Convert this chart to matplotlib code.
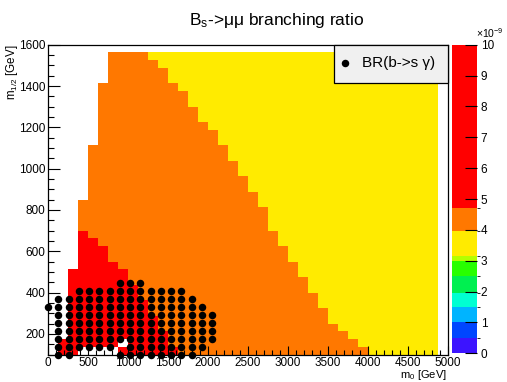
import numpy as np
import matplotlib.pyplot as plt
from matplotlib.colors import ListedColormap, BoundaryNorm
from matplotlib.cm import ScalarMappable
from matplotlib.patches import Rectangle
from matplotlib.ticker import MultipleLocator

plt.rcParams['font.family'] = ['Liberation Sans', 'DejaVu Sans']
plt.rcParams['mathtext.fontset'] = 'custom'
plt.rcParams['mathtext.rm'] = 'Liberation Sans'
plt.rcParams['mathtext.it'] = 'Liberation Sans:italic'
plt.rcParams['mathtext.default'] = 'regular'

# 40x40 histogram in (m0, m1/2)
m0_edges = np.linspace(0, 5000, 41)
m12_edges = np.linspace(100, 1600, 41)

# per m0 bin: first filled row, top of the red band, top of the orange band, top of filled region
first_row = [0, 0, 0, 1, 1, 1, 1, 0, 0, 0, 0, 0, 0, 0, 0, 0, 0, 0, 0, 0,
             0, 0, 0, 0, 0, 0, 0, 0, 0, 0, 0, 0, 0, 0, 0, 0, 0, 0, 0, 0]
red_top = [0, 2, 11, 16, 15, 14, 12, 11, 9, 7, 5, 3, 1, 0, 0, 0, 0, 0, 0, 0,
           0, 0, 0, 0, 0, 0, 0, 0, 0, 0, 0, 0, 0, 0, 0, 0, 0, 0, 0, 0]
orange_top = [0, 2, 11, 20, 27, 35, 39, 39, 39, 39, 38, 37, 35, 34, 32, 30, 29, 27, 25, 23,
              21, 19, 16, 14, 12, 10, 8, 6, 4, 3, 2, 1, 0, 0, 0, 0, 0, 0, 0, 0]
fill_top = [0, 2, 11, 20, 27, 35, 39, 39, 39, 39, 39, 39, 39, 39, 39, 39, 39, 39, 39, 39,
            39, 39, 39, 39, 39, 39, 39, 39, 39, 39, 39, 39, 39, 39, 39, 39, 39, 39, 39, 0]
empty_cells = [(7, 1)]

# BR(Bs->mumu) per band, in units of 1e-9
br_red = 6.0
br_orange = 4.3
br_yellow = 3.5

# scan points excluded by BR(b->s gamma): row index -> m0 indices
m0_scan = np.linspace(0, 5000, 40)
m12_scan = np.linspace(100, 1600, 40)
bsg_points = {
    0: [1, 2, 7, 8, 9, 10, 11, 12, 13, 14],
    1: [1, 2, 3, 4, 5, 6, 8, 9, 10, 11, 12, 13, 14, 15],
    2: list(range(1, 17)),
    3: list(range(1, 17)),
    4: list(range(1, 17)),
    5: list(range(1, 17)),
    6: list(range(0, 16)),
    7: list(range(1, 15)),
    8: list(range(3, 14)),
    9: [7, 8, 9],
}

# palette levels (1e-9) and colours
levels = [0, 0.5, 1.0, 1.5, 1.95, 2.5, 3.0, 3.15, 3.95, 4.7, 10]
colors = ['#3c14ff', '#0046ff', '#00b4ff', '#00ffd2', '#00f050',
          '#28ff00', '#b4ff00', '#ffeb00', '#ff7800', '#ff0000']

z = np.full((40, 40), np.nan)
for c in range(40):
    for r in range(first_row[c], fill_top[c]):
        if r < red_top[c]:
            z[r, c] = br_red
        elif r < orange_top[c]:
            z[r, c] = br_orange
        else:
            z[r, c] = br_yellow
for c, r in empty_cells:
    z[r, c] = np.nan

cmap = ListedColormap(colors)
norm = BoundaryNorm(levels, cmap.N)

W, H = 507, 382
fig = plt.figure(figsize=(W / 100, H / 100), dpi=100)
ax = fig.add_axes([48 / W, 1 - 354.6 / H, 400 / W, 309.9 / H])

ax.pcolormesh(m0_edges, m12_edges, z, cmap=cmap, norm=norm)

px, py = [], []
for j, cols in bsg_points.items():
    for i in cols:
        px.append(m0_scan[i])
        py.append(m12_scan[j])
ax.plot(px, py, 'o', color='k', ms=5.4, mew=0, clip_on=False, zorder=3)

ax.set_xlim(0, 5000)
ax.set_ylim(100, 1600)
ax.set_xticks(np.arange(0, 5001, 500))
ax.xaxis.set_minor_locator(MultipleLocator(100))
ax.set_yticks(np.arange(200, 1601, 200))
ax.yaxis.set_minor_locator(MultipleLocator(50))
ax.tick_params(which='both', direction='in', top=False, right=False, width=0.8, labelsize=8.5)
ax.tick_params(axis='x', which='major', length=6.8, pad=1.5)
ax.tick_params(axis='x', which='minor', length=3.4)
ax.tick_params(axis='y', which='major', length=8.8, pad=2)
ax.tick_params(axis='y', which='minor', length=4.4)
for s in ax.spines.values():
    s.set_linewidth(0.9)

# legend box
ax.add_patch(Rectangle((0.715, 0.877), 0.285, 0.123, transform=ax.transAxes,
                       facecolor='#f0f0f0', edgecolor='k', lw=0.9, clip_on=False, zorder=4))
ax.plot([0.7425], [0.941], 'o', color='k', ms=5.4, mew=0, transform=ax.transAxes,
        clip_on=False, zorder=5)
ax.text(0.785, 0.941, 'BR(b->s γ)', transform=ax.transAxes, fontsize=11,
        va='center', ha='left', zorder=5)

# palette
cax = fig.add_axes([451.5 / W, 1 - 353.3 / H, 25 / W, 308.6 / H])
cb = fig.colorbar(ScalarMappable(norm=norm, cmap=cmap), cax=cax,
                  spacing='proportional', ticks=range(11))
cb.outline.set_visible(False)
cax.tick_params(direction='in', length=9, width=0.8, labelsize=8.5, pad=3)
fig.text(476 / W, 1 - 38.5 / H, '×10$^{-9}$', fontsize=7.5, ha='left', va='baseline')

fig.text(277 / W, 1 - 25 / H, 'B$_{s}$->μμ branching ratio', fontsize=12.5,
         ha='center', va='baseline')
fig.text(447 / W, 1 - 378 / H, 'm$_{0}$ [GeV]', fontsize=8.0, ha='right', va='baseline')
fig.text(12.5 / W, 1 - 44.7 / H, 'm$_{1/2}$ [GeV]', fontsize=8.4, rotation=90,
         ha='center', va='top')

fig.savefig('out.png', dpi=100)
